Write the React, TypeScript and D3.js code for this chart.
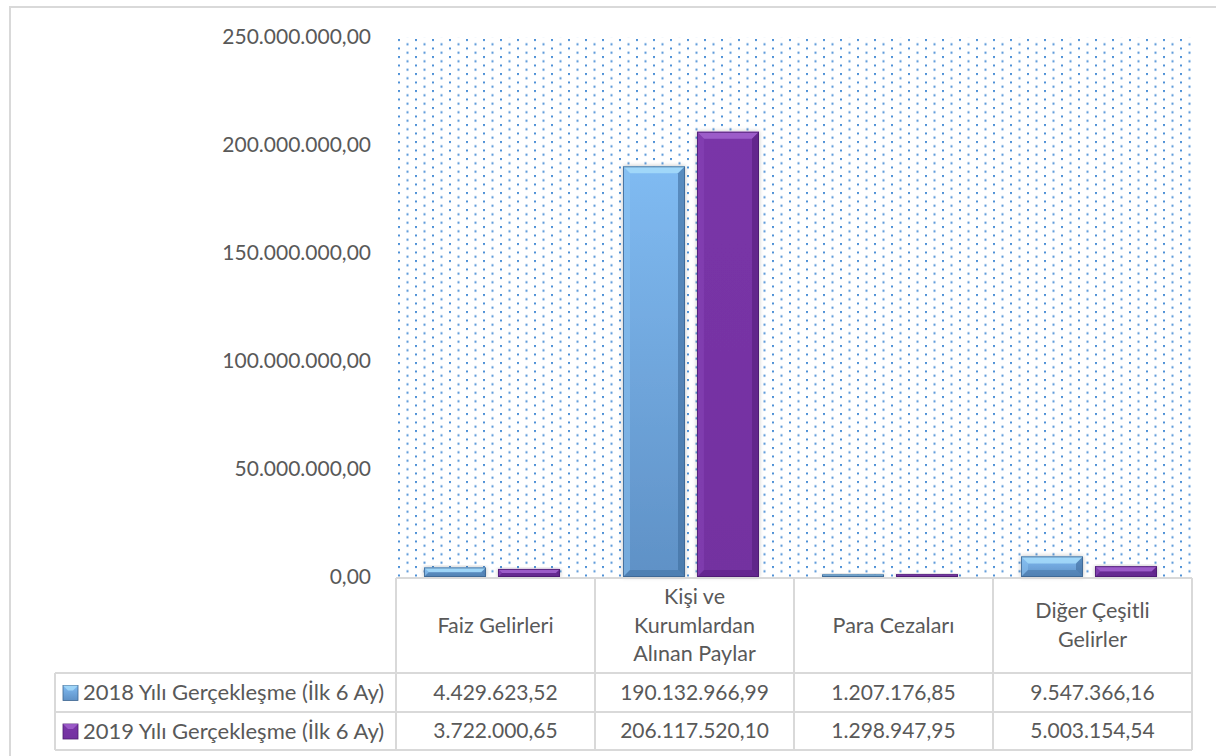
import React from 'react';
import * as d3 from 'd3';

const categories: string[][] = [
  ['Faiz Gelirleri'],
  ['Kişi ve', 'Kurumlardan', 'Alınan Paylar'],
  ['Para Cezaları'],
  ['Diğer Çeşitli', 'Gelirler'],
];
const seriesNames = ['2018 Yılı Gerçekleşme (İlk 6 Ay)', '2019 Yılı Gerçekleşme (İlk 6 Ay)'];
const values2018 = [4429623.52, 190132966.99, 1207176.85, 9547366.16];
const values2019 = [3722000.65, 206117520.1, 1298947.95, 5003154.54];
const yTicks = [0, 50000000, 100000000, 150000000, 200000000, 250000000];

const W = 1216;
const H = 756;
const plot = { left: 396, right: 1192, top: 37, bottom: 577 };
const rows = { head: 673, r1: 712, r2: 750 };
const legendLeft = 55;
const textColor = '#595959';
const lineColor = '#d9d9d9';
const font = 'Lato, "Open Sans", sans-serif';

const trLocale = d3.formatLocale({ decimal: ',', thousands: '.', grouping: [3], currency: ['', ''] });
const fmt = trLocale.format(',.2f');

const seriesStyle = [
  { top: '#80bbf2', bottom: '#5f91c6', bevelTop: '#a6dcfa', light: '#8cc4f2', dark: '#3f6c9c', stroke: '#3d6590', id: 'g18' },
  { top: '#7a35a8', bottom: '#7331a0', bevelTop: '#a263cf', light: '#8a45ba', dark: '#55207c', stroke: '#4b1c6e', id: 'g19' },
];

const Bar: React.FC<{ x: number; y: number; w: number; h: number; s: number }> = ({ x, y, w, h, s }) => {
  const st = seriesStyle[s];
  const b = Math.min(7, h / 2);
  return (
    <g filter="url(#shadow)">
      <rect x={x} y={y} width={w} height={h} fill={`url(#${st.id})`} />
      <polygon points={`${x},${y} ${x + w},${y} ${x + w - b},${y + b} ${x + b},${y + b}`} fill={st.bevelTop} opacity={0.85} />
      <polygon points={`${x},${y} ${x + b},${y + b} ${x + b},${y + h - b} ${x},${y + h}`} fill={st.light} opacity={0.5} />
      <polygon points={`${x + w},${y} ${x + w - b},${y + b} ${x + w - b},${y + h - b} ${x + w},${y + h}`} fill={st.dark} opacity={0.6} />
      <polygon points={`${x},${y + h} ${x + b},${y + h - b} ${x + w - b},${y + h - b} ${x + w},${y + h}`} fill={st.dark} opacity={0.45} />
      <rect x={x + 0.5} y={y + 0.5} width={Math.max(0, w - 1)} height={Math.max(0, h - 1)} fill="none" stroke={st.stroke} strokeWidth={1} opacity={0.8} />
    </g>
  );
};

const App: React.FC = () => {
  const x0 = d3.scaleBand<number>().domain(d3.range(categories.length)).range([plot.left, plot.right]);
  const x1 = d3.scaleBand<number>().domain([0, 1]).range([28, 28 + 136]).paddingInner(0.162);
  const y = d3.scaleLinear().domain([0, 250000000]).range([plot.bottom, plot.top]);
  const series = [values2018, values2019];
  const colX = (i: number) => x0(i)!;
  const bw = x0.bandwidth();

  return (
    <svg width={W} height={H} style={{ position: 'absolute', left: 0, top: 0, background: '#fff' }}>
      <defs>
        <pattern id="dots" patternUnits="userSpaceOnUse" x={398} y={39} width={17} height={8.5}>
          <rect x={0} y={0} width={2} height={2} fill="#4f91d6" />
          <rect x={8.5} y={4.25} width={2} height={2} fill="#4f91d6" />
        </pattern>
        {seriesStyle.map((st) => (
          <linearGradient key={st.id} id={st.id} x1="0" y1="0" x2="0" y2="1">
            <stop offset="0%" stopColor={st.top} />
            <stop offset="100%" stopColor={st.bottom} />
          </linearGradient>
        ))}
        <filter id="shadow" x="-20%" y="-20%" width="140%" height="140%">
          <feDropShadow dx="0" dy="0" stdDeviation="2" floodColor="#000" floodOpacity="0.25" />
        </filter>
      </defs>

      <rect x={10} y={7} width={W + 20} height={H + 20} fill="#fff" stroke={lineColor} strokeWidth={2} />

      {/* plot area */}
      <rect x={plot.left} y={plot.top} width={plot.right - plot.left} height={plot.bottom - plot.top} fill="url(#dots)" />

      {/* y axis labels */}
      {yTicks.map((t) => (
        <text key={t} x={371} y={y(t)} dy="0.35em" textAnchor="end" fontFamily={font} fontSize={21} fill={textColor}>
          {fmt(t)}
        </text>
      ))}

      {/* bars */}
      {categories.map((_, i) =>
        series.map((vals, s) => {
          const bx = colX(i) + x1(s)!;
          const by = y(vals[i]);
          return <Bar key={`${i}-${s}`} x={bx} y={by} w={x1.bandwidth()} h={plot.bottom - by} s={s} />;
        })
      )}

      {/* table lines */}
      <g stroke={lineColor} strokeWidth={2} fill="none">
        <line x1={plot.left} x2={plot.right} y1={plot.bottom + 1} y2={plot.bottom + 1} />
        <line x1={legendLeft} x2={plot.right} y1={rows.head} y2={rows.head} />
        <line x1={legendLeft} x2={plot.right} y1={rows.r1} y2={rows.r1} />
        <line x1={legendLeft} x2={plot.right} y1={rows.r2} y2={rows.r2} />
        <line x1={legendLeft} x2={legendLeft} y1={rows.head} y2={rows.r2} />
        {d3.range(categories.length + 1).map((i) => {
          const lx = i < categories.length ? colX(i) : plot.right;
          return <line key={i} x1={lx} x2={lx} y1={plot.bottom + 1} y2={rows.r2} />;
        })}
      </g>

      {/* category headers */}
      {categories.map((lines, i) => {
        const cy = (plot.bottom + rows.head) / 2;
        const lh = 28.5;
        return (
          <text key={i} textAnchor="middle" fontFamily={font} fontSize={21.5} fill={textColor}>
            {lines.map((l, k) => (
              <tspan key={k} x={colX(i) + bw / 2} y={cy + (k - (lines.length - 1) / 2) * lh} dy="0.35em">
                {l}
              </tspan>
            ))}
          </text>
        );
      })}

      {/* legend + values */}
      {series.map((vals, s) => {
        const top = s === 0 ? rows.head : rows.r1;
        const bottom = s === 0 ? rows.r1 : rows.r2;
        const cy = (top + bottom) / 2;
        const st = seriesStyle[s];
        return (
          <g key={s}>
            <rect x={63} y={cy - 7} width={15} height={15} fill={`url(#${st.id})`} stroke={st.stroke} strokeWidth={0.8} />
            <polygon points={`${63},${cy - 7} ${78},${cy - 7} ${73},${cy - 2} ${68},${cy - 2}`} fill={st.bevelTop} opacity={0.8} />
            <text x={83} y={cy} dy="0.35em" fontFamily={font} fontSize={22} fill={textColor}>
              {seriesNames[s]}
            </text>
            {vals.map((v, i) => (
              <text key={i} x={colX(i) + bw / 2} y={cy} dy="0.35em" textAnchor="middle" fontFamily={font} fontSize={21} fill={textColor}>
                {fmt(v)}
              </text>
            ))}
          </g>
        );
      })}
    </svg>
  );
};

export default App;
